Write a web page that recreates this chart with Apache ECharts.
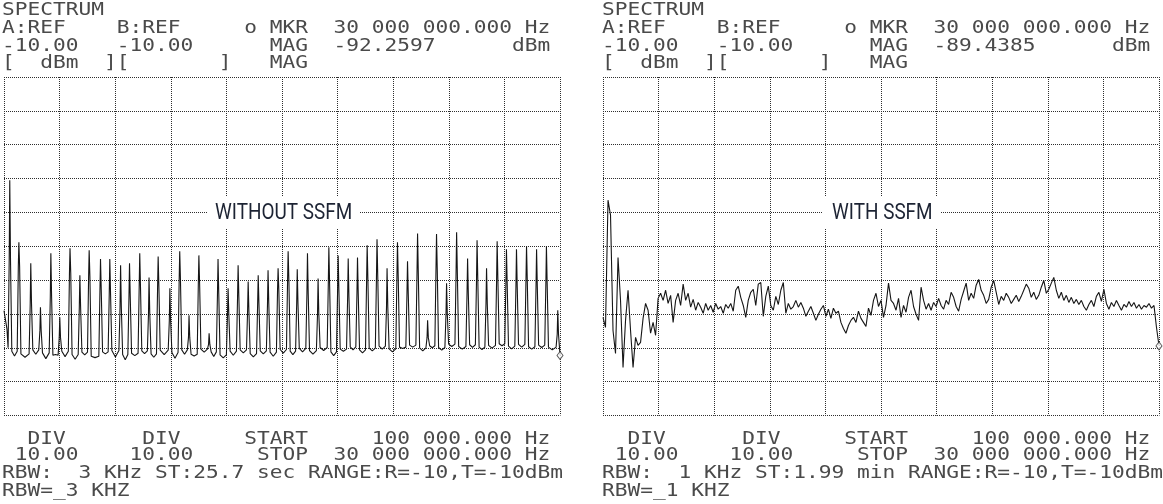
<!DOCTYPE html>
<html><head><meta charset="utf-8">
<script src="https://cdn.jsdelivr.net/npm/echarts@6/dist/echarts.min.js"></script>
<style>html,body{margin:0;padding:0;background:#fff}#c{width:1163px;height:504px}</style>
</head><body><div id="c"></div>
<script>
// ---- sweep settings (MHz / dBm) ----
const X_START = 0.1, X_STOP = 30;
const Y_BOTTOM = -110, Y_TOP = -10, Y_DIV = 10;

// ---- WITHOUT SSFM: comb of spectral lines ----
const leftPeakMHz = [0.42,0.91,1.55,2.07,2.63,3.11,3.66,4.19,4.69,5.30,5.80,6.38,6.86,7.41,7.91,8.40,9.03,9.56,10.06,10.59,11.14,11.62,12.16,12.70,13.24,13.78,14.31,14.85,15.39,15.88,16.43,17.00,17.58,18.08,18.62,19.12,19.64,20.17,20.71,21.27,21.81,22.35,22.89,23.37,23.91,24.45,25.04,25.55,26.06,26.63,27.13,27.67,28.21,28.75,29.28,29.89];
const leftPeakDbm = [-40.5,-58.8,-65.0,-78.0,-62.1,-81.0,-60.6,-68.6,-61.2,-63.8,-63.8,-65.6,-65.0,-62.1,-69.2,-63.0,-72.4,-61.5,-80.4,-62.7,-85.7,-63.8,-72.4,-65.6,-70.4,-68.6,-67.1,-66.5,-61.5,-66.8,-62.1,-69.5,-60.3,-62.7,-63.6,-63.3,-59.7,-57.9,-66.5,-58.8,-64.4,-56.2,-81.9,-56.4,-70.9,-55.9,-63.6,-58.2,-66.5,-58.5,-60.9,-60.9,-60.0,-60.9,-60.0,-78.9];
const leftShoulderDbm = [-64,-66,-77,-85,-75,-87,-68,-78,-69,-73,-74,-78,-75,-72,-80,-72,-82,-70,-87,-71,-89,-74,-80,-75,-79,-77,-77,-73,-70,-77,-74,-80,-71,-73,-75,-74,-70,-69,-78,-69,-74,-68,-87,-67,-80,-68,-74,-70,-77,-70,-71,-72,-70,-72,-71,-86];
const leftFloorDbm = [-90.0,-91.0,-91.8,-90.6,-91.5,-92.2,-91.0,-92.0,-91.3,-92.5,-91.2,-90.8,-92.0,-91.6,-90.9,-91.8,-90.7,-91.4,-90.6,-91.9,-90.4,-91.2,-92.1,-91.0,-90.6,-91.7,-90.9,-91.3,-90.5,-91.0,-90.2,-90.8,-89.9,-91.2,-90.4,-89.7,-90.6,-90.1,-89.5,-90.3,-89.8,-89.2,-90.0,-89.4,-89.9,-88.9,-89.6,-89.1,-89.8,-89.3,-88.8,-89.5,-89.0,-89.7,-89.2,-89.8,-90.5];
const leftDipDbm = [-84.5,-92.4,-92.8,-91.9,-93.2,-92.0,-92.6,-93.4,-92.1,-92.9,-91.8,-92.7,-93.5,-92.3,-91.7,-92.8,-92.0,-93.1,-91.9,-92.4,-91.3,-92.6,-93.0,-92.2,-91.5,-92.7,-91.8,-92.5,-91.6,-92.0,-91.2,-91.9,-90.8,-92.3,-91.0,-90.6,-91.5,-90.9,-90.4,-91.2,-90.2,-89.8,-90.9,-90.0,-90.7,-89.6,-90.4,-89.9,-90.5,-90.1,-89.4,-90.3,-89.8,-90.4,-89.9,-90.6];
const leftStartDbm = -79.0;
const leftMarkerDbm = -92.2597;

// ---- WITH SSFM: swept trace, equally spaced sweep points from START to STOP ----
const rightTraceDbm = [
-81.0,-84.0,-46.4,-50.8,-84.9,-91.7,-63.3,-76.0,-95.8,-81.9,
-73.0,-84.9,-95.8,-86.9,-89.3,-88.4,-81.3,-76.9,-78.9,-85.7,
-82.5,-86.3,-75.4,-73.9,
-76.0,-73.0,-76.9,-74.5,-82.5,-76.0,-73.9,-77.5,-71.2,-76.0,
-73.9,-78.0,-75.7,-78.9,-76.6,-78.0,-79.8,-76.9,-78.9,-77.5,
-79.5,-76.9,-78.6,-77.8,-79.8,-77.2,-78.3,-76.9,-79.2,-73.0,
-71.8,-75.1,-77.5,-81.0,-76.0,-73.6,-72.7,-77.5,-71.2,-70.7,
-80.7,-74.8,-71.8,-77.5,-78.9,-74.8,-77.2,-73.0,-70.7,-79.8,
-76.9,-78.6,-77.8,-76.0,-78.0,-76.6,-78.3,-80.7,-79.2,-77.8,
-79.8,-81.9,-80.1,-78.6,-77.5,-80.7,-78.6,-81.3,-78.3,-79.8,
-79.2,-82.5,-84.3,-85.7,-83.4,-81.9,-81.0,-82.5,-79.2,-81.3,
-82.5,-83.7,-78.3,-80.4,-76.0,-73.9,-77.8,-76.0,-81.0,-77.5,
-70.9,-76.0,
-76.9,-78.9,-75.4,-81.0,-77.5,-79.5,-75.1,-73.0,-77.8,-80.1,
-81.9,-72.1,-76.0,-78.6,-76.9,-78.9,-76.6,-77.8,-75.4,-77.5,
-78.6,-76.0,-77.2,-73.6,-75.1,-77.8,-79.2,-75.7,-73.3,-70.9,
-76.0,-73.9,-75.4,-71.5,-69.8,-73.0,-74.5,-76.9,-75.7,-72.1,
-70.1,-73.6,-77.2,-74.8,-76.0,-73.9,-75.1,-76.9,-75.7,-74.5,
-76.3,-74.8,-73.0,-71.2,-72.4,-75.1,-73.6,-75.7,-74.5,-72.1,
-70.1,-73.9,-72.7,-70.9,-69.2,-73.0,-75.4,-73.6,-76.0,-74.5,
-76.6,-75.1,-76.9,-75.7,-77.2,-76.0,-77.8,-78.9,-77.2,-76.0,
-77.8,-74.8,-73.6,-76.3,-72.7,-76.9,-78.6,-76.6,-77.8,-76.0,
-77.5,-78.9,-77.2,-78.0,-76.3,-77.8,-76.6,-78.3,-77.2,-78.6,
-77.5,-78.0,-76.9,-78.3,-77.5,-84.0,-89.4];
const rightMarkerDbm = -89.4385;

// ---- screen texts ----
const headerLeft = ['SPECTRUM','A:REF    B:REF     o MKR  30 000 000.000 Hz','-10.00   -10.00      MAG  -92.2597      dBm','[  dBm  ][       ]   MAG'];
const headerRight = ['SPECTRUM','A:REF    B:REF     o MKR  30 000 000.000 Hz','-10.00   -10.00      MAG  -89.4385      dBm','[  dBm  ][       ]   MAG'];
const footerLeft = ['  DIV      DIV     START     100 000.000 Hz',' 10.00    10.00     STOP  30 000 000.000 Hz','RBW:  3 KHz ST:25.7 sec RANGE:R=-10,T=-10dBm','RBW=_3 KHZ'];
const footerRight = ['  DIV      DIV     START     100 000.000 Hz',' 10.00    10.00     STOP  30 000 000.000 Hz','RBW:  1 KHz ST:1.99 min RANGE:R=-10,T=-10dBm','RBW=_1 KHZ'];
const labelLeft = 'WITHOUT SSFM';
const labelRight = 'WITH SSFM';

// ---- build traces ----
function buildLeft(){
  const pts = [[X_START, leftStartDbm]];
  for (let i = 0; i < leftPeakMHz.length; i++){
    const prev = i === 0 ? X_START : leftPeakMHz[i-1];
    const f = leftPeakMHz[i];
    pts.push([(prev + f) / 2, leftDipDbm[i]]);
    pts.push([f - 0.1, leftFloorDbm[i]]);
    pts.push([f - 0.04, leftShoulderDbm[i]]);
    pts.push([f - 0.01, leftPeakDbm[i]]);
    pts.push([Math.min(f + 0.03, X_STOP - 0.04), leftShoulderDbm[i]]);
    pts.push([Math.min(f + 0.1, X_STOP - 0.02), leftFloorDbm[i+1]]);
  }
  pts.push([X_STOP, leftMarkerDbm]);
  return pts;
}
function buildRight(){
  const n = rightTraceDbm.length, step = (X_STOP - X_START) / (n - 1);
  return rightTraceDbm.map((v, i) => [X_START + i * step, v]);
}

const GRID_TOP = 77, GRID_H = 338.5, GRID_W = 556;
const panels = [{left: 4, header: headerLeft, footer: footerLeft, tx: 2, label: labelLeft, box: [207, 197, 153, 32], lx: 215, lscale: 0.86},
                {left: 603, header: headerRight, footer: footerRight, tx: 602, label: labelRight, box: [822, 197, 119, 32], lx: 832, lscale: 0.86}];

const gridLine = {show: true, lineStyle: {color: '#2e2e2e', width: 1, type: [1, 1]}};
const grids = [], xAxes = [], yAxes = [], series = [], graphics = [];
const MONO = '"DejaVu Sans Mono", monospace';
const FONT_PX = 17, CHAR_W = 12.75, MONO_SCALE = CHAR_W / (FONT_PX * 0.602);
const headerY = [11, 28.5, 46.5, 64];
const footerY = [439.5, 456, 473.5, 492];

function textLine(str, x, y){
  return {type: 'text', x: x, y: y, scaleX: MONO_SCALE, silent: true, z: 100,
    style: {text: str, x: 0, y: 0, font: FONT_PX + 'px ' + MONO, fill: '#4a4a4a', textAlign: 'left', textVerticalAlign: 'middle'}};
}

panels.forEach((p, k) => {
  grids.push({left: p.left, top: GRID_TOP, width: GRID_W, height: GRID_H, show: false});
  xAxes.push({gridIndex: k, type: 'value', min: X_START, max: X_STOP, show: false});
  xAxes.push({gridIndex: k, type: 'value', min: 0, max: 10, interval: 1, position: 'bottom',
    axisLine: {show: false}, axisTick: {show: false}, axisLabel: {show: false}, splitLine: gridLine});
  yAxes.push({gridIndex: k, type: 'value', min: Y_BOTTOM, max: Y_TOP, interval: Y_DIV,
    axisLine: {show: false}, axisTick: {show: false}, axisLabel: {show: false}, splitLine: gridLine});
  const data = k === 0 ? buildLeft() : buildRight();
  series.push({type: 'line', xAxisIndex: 2*k, yAxisIndex: k, data: data, showSymbol: false, symbol: 'none',
    lineStyle: {color: '#161616', width: 1.1}, z: 5, animation: false, silent: true});
  series.push({type: 'scatter', xAxisIndex: 2*k, yAxisIndex: k, data: [[X_STOP, k === 0 ? leftMarkerDbm : rightMarkerDbm]],
    symbol: 'diamond', symbolSize: [6, 8], itemStyle: {color: '#fff', borderColor: '#333', borderWidth: 1}, z: 6, silent: true});
  p.header.forEach((s, i) => graphics.push(textLine(s, p.tx, headerY[i])));
  p.footer.forEach((s, i) => graphics.push(textLine(s, p.tx, footerY[i])));
  graphics.push({type: 'rect', shape: {x: p.box[0], y: p.box[1], width: p.box[2], height: p.box[3]}, style: {fill: '#fff'}, z: 50, silent: true});
  graphics.push({type: 'text', x: p.lx, y: 213.5, scaleX: p.lscale, z: 60, silent: true,
    style: {text: p.label, x: 0, y: 0, font: '22px Roboto', fill: '#1c2333', textAlign: 'left', textVerticalAlign: 'middle'}});
});

const chart = echarts.init(document.getElementById('c'), null, {renderer: 'canvas'});
chart.setOption({
  animation: false,
  backgroundColor: '#ffffff',
  grid: grids, xAxis: xAxes, yAxis: yAxes, series: series, graphic: graphics
});
</script></body></html>
